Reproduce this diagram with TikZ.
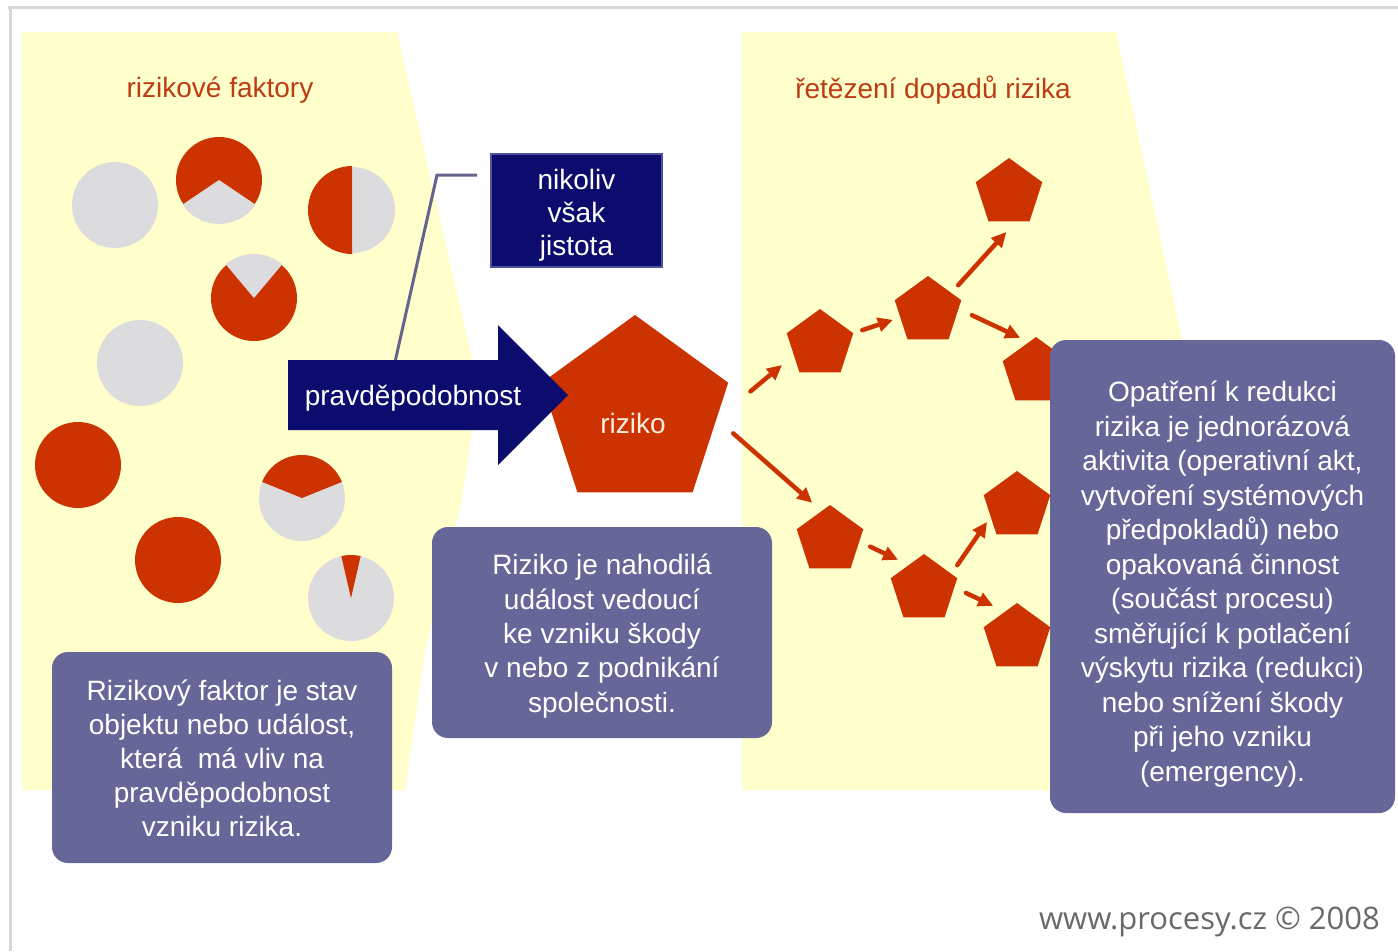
\documentclass[tikz,border=0pt]{standalone}
\usepackage{fontspec}
\setmainfont{Liberation Sans}
\newfontfamily\footfont{Open Sans}
\usetikzlibrary{shapes.geometric,arrows.meta}
\definecolor{panel}{RGB}{255,255,204}
\definecolor{rred}{RGB}{204,51,0}
\definecolor{lgray}{RGB}{220,220,222}
\definecolor{navy}{RGB}{12,12,110}
\definecolor{navyedge}{RGB}{80,80,160}
\definecolor{lilac}{RGB}{102,102,153}
\definecolor{titlered}{RGB}{190,60,20}
\definecolor{framegray}{RGB}{215,215,215}
\definecolor{callout}{RGB}{100,100,140}
\definecolor{footgray}{RGB}{105,105,105}
\definecolor{peach}{RGB}{252,238,225}
\begin{document}
\begin{tikzpicture}[x=1pt,y=-1pt,
  txt/.style={font=\fontsize{28}{34}\selectfont, align=center, text=white},
  pbox/.style={fill=lilac, rounded corners=16pt, inner sep=0pt},
  piec/.style={circle, inner sep=0pt, outer sep=0pt, minimum size=86pt},
  pent/.style={regular polygon, regular polygon sides=5, fill=rred, inner sep=0pt, outer sep=0pt, minimum size=70pt},
  rarr/.style={draw=rred, line width=4.5pt, line cap=round, -{Triangle[length=15pt,width=14pt]}},
  heading/.style={font=\fontsize{28}{34}\selectfont, text=titlered}
]
\useasboundingbox (0,0) rectangle (1398,951);
\fill[white] (0,0) rectangle (1398,951);
% frame
\draw[framegray, line width=3pt] (8,7) -- (1398,7);
\draw[framegray, line width=3pt] (10,7) -- (10,951);
% panels
\fill[panel] (22,32) -- (397,32) -- (478,385) -- (462,500) -- (425,650) -- (405,790) -- (22,790) -- cycle;
\fill[panel] (742,32) -- (1116,32) -- (1195,400) -- (1160,790) -- (742,790) -- cycle;
% titles
\node[heading] (t1) at (220,90) {rizikové faktory};
\node[heading] (t2) at (933,90) {řetězení dopadů rizika};
% risk factor pies
\node[piec, fill=lgray] (c1) at (115,205) {};
\node[piec, fill=rred] (c2) at (219,180) {};
\fill[lgray] (c2.center) -- ++(34:44) arc[start angle=34, end angle=146, radius=44] -- cycle;
\node[piec, fill=lgray] (c3) at (352,210) {};
\fill[rred] (c3.center) -- ++(90:44) arc[start angle=90, end angle=270, radius=44] -- cycle;
\node[piec, fill=rred] (c4) at (254,298) {};
\fill[lgray] (c4.center) -- ++(-130:44) arc[start angle=-130, end angle=-50, radius=44] -- cycle;
\node[piec, fill=lgray] (c5) at (140,363) {};
\node[piec, fill=rred] (c6) at (78,465) {};
\node[piec, fill=lgray] (c7) at (302,498) {};
\fill[rred] (c7.center) -- ++(-158:43) arc[start angle=-158, end angle=-22, radius=43] -- cycle;
\node[piec, fill=rred] (c8) at (178,560) {};
\node[piec, fill=lgray] (c9) at (351,598) {};
\fill[rred] (c9.center) -- ++(-103:43) arc[start angle=-103, end angle=-77, radius=43] -- cycle;
% callout
\node[fill=navy, draw=navyedge, line width=2.5pt, minimum width=171pt, minimum height=113pt, inner sep=0pt] (N) at (576.5,210.5) {};
\node[txt, font=\fontsize{28}{33}\selectfont] (Nt) at (576.5,215) {nikoliv\\však\\jistota};
\coordinate (k1) at (477,175);
\coordinate (k2) at (395,362);
\draw[callout, line width=3pt] (k1) -- ++(-40,0) -- (k2);
% riziko pentagon
\node[pent, minimum size=196pt] (B) at (635,413) {};
\node[txt, text=peach] (rz) at (633,423) {riziko};
% probability arrow
\fill[navy] (288,360) -- (498,360) -- (498,325) -- (568,395) -- (498,465) -- (498,430) -- (288,430) -- cycle;
\node[txt] (pv) at (413,398) {pravděpodobnost};
% chain of impacts
\node[pent] (P1) at (820,344) {};
\node[pent] (P2) at (928,311) {};
\node[pent] (P3) at (1009,193) {};
\node[pent] (P4) at (1036,372) {};
\node[pent] (P5) at (830,540) {};
\node[pent] (P6) at (924,589) {};
\node[pent] (P7) at (1017,506) {};
\node[pent] (P8) at (1017,638) {};
\draw[rarr, shorten <=44.8pt, shorten >=15.4pt] (B.-5.6) -- (P1.203);
\draw[rarr, shorten <=22.2pt, shorten >=12.5pt] (B.-4.5) -- (P5.106.6);
\draw[rarr, shorten <=9.5pt, shorten >=7.8pt] (P1.18.6) -- (P2.193.4);
\draw[rarr, shorten <=10.3pt, shorten >=14.4pt] (P2.38.5) -- (P3.-76.7);
\draw[rarr, shorten <=14.8pt, shorten >=9.8pt] (P2.4.5) -- (P4.103.6);
\draw[rarr, shorten <=12pt, shorten >=12pt] (P5.-3.7) -- (P6.122.3);
\draw[rarr, shorten <=10.5pt, shorten >=6.4pt] (P6.29.7) -- (P7.202.3);
\draw[rarr, shorten <=12.9pt, shorten >=13.3pt] (P6.3) -- (P8.114.6);
% text boxes
\node[pbox, minimum width=340pt, minimum height=211pt] (L) at (222,757.5) {};
\node[txt] (Lt) at (222,758) {Rizikový faktor je stav\\objektu nebo událost,\\která~ má vliv na\\pravděpodobnost\\vzniku rizika.};
\node[pbox, minimum width=340pt, minimum height=211pt] (M) at (602,632.5) {};
\node[txt, font=\fontsize{28}{34.3}\selectfont] (Mt) at (602,636) {Riziko je nahodilá\\událost vedoucí\\ke vzniku škody\\v nebo z podnikání\\společnosti.};
\node[pbox, minimum width=345pt, minimum height=473pt] (R) at (1222.5,576.5) {};
\node[txt, font=\fontsize{28}{34.5}\selectfont] (Rt) at (1222.5,584) {Opatření k redukci\\rizika je jednorázová\\aktivita (operativní akt,\\vytvoření systémových\\předpokladů) nebo\\opakovaná činnost\\(součást procesu)\\směřující k potlačení\\výskytu rizika (redukci)\\nebo snížení škody\\při jeho vzniku\\(emergency).};
% footer
\node[anchor=east, inner sep=0pt, font=\footfont\fontsize{31}{36}\selectfont, text=footgray] (ft) at (1380,922) {www.procesy.cz © 2008};
\end{tikzpicture}
\end{document}
